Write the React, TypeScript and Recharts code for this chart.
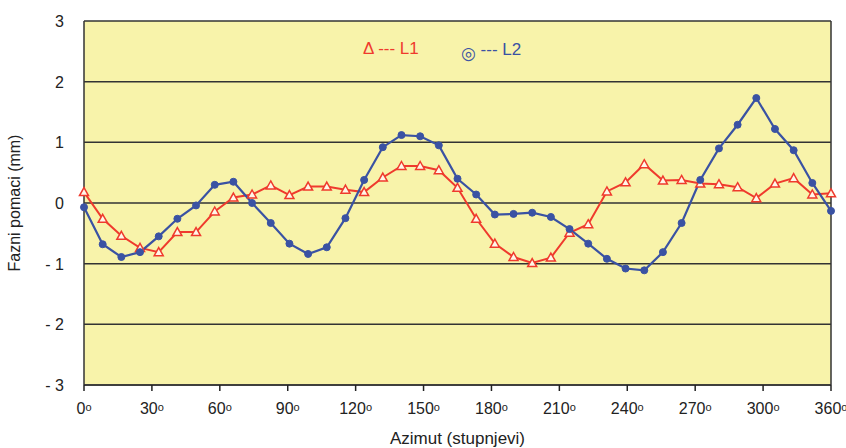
import React from "react";
import {
  LineChart,
  Line,
  XAxis,
  YAxis,
  CartesianGrid,
  ReferenceLine,
} from "recharts";

// sample azimuths as drawn on the (0..330 scaled) axis
const AZIMUTH = [
  0, 8.25, 16.5, 24.75, 33, 41.25, 49.5, 57.75, 66, 74.25, 82.5, 90.75, 99,
  107.25, 115.5, 123.75, 132, 140.25, 148.5, 156.75, 165, 173.25, 181.5,
  189.75, 198, 206.25, 214.5, 222.75, 231, 239.25, 247.5, 255.75, 264, 272.25,
  280.5, 288.75, 297, 305.25, 313.5, 321.75, 330,
];

const L1 = [
  0.18, -0.26, -0.54, -0.74, -0.81, -0.48, -0.48, -0.14, 0.09, 0.14, 0.29,
  0.13, 0.27, 0.27, 0.22, 0.18, 0.42, 0.61, 0.61, 0.54, 0.25, -0.26, -0.67,
  -0.89, -0.99, -0.9, -0.49, -0.35, 0.19, 0.34, 0.64, 0.37, 0.38, 0.32, 0.31,
  0.26, 0.08, 0.32, 0.41, 0.14, 0.16,
];

const L2 = [
  -0.07, -0.68, -0.89, -0.81, -0.55, -0.26, -0.04, 0.3, 0.35, 0.0, -0.33,
  -0.67, -0.84, -0.73, -0.25, 0.38, 0.92, 1.12, 1.1, 0.95, 0.4, 0.14, -0.19,
  -0.18, -0.16, -0.23, -0.43, -0.67, -0.92, -1.08, -1.11, -0.81, -0.33, 0.38,
  0.9, 1.29, 1.73, 1.22, 0.87, 0.33, -0.13,
];

const X_TICKS = [0, 30, 60, 90, 120, 150, 180, 210, 240, 270, 300, 330];
const X_LABELS = ["0", "30", "60", "90", "120", "150", "180", "210", "240", "270", "300", "360"];
const Y_TICKS = [-3, -2, -1, 0, 1, 2, 3];

const RED = "#ef3a2d";
const BLUE = "#3a52a3";
const FONT = "'Liberation Sans', Arial, sans-serif";

const data = AZIMUTH.map((az, i) => ({ az, l1: L1[i], l2: L2[i] }));

const XTick = ({ x, y, payload }: any) => {
  const idx = X_TICKS.indexOf(payload.value);
  return (
    <text x={x} y={y + 21} textAnchor="middle" fontSize={16} fill="#222" fontFamily={FONT}>
      {X_LABELS[idx]}
      <tspan fontSize={11} dy={-3}>o</tspan>
    </text>
  );
};

const YTick = ({ x, y, payload }: any) => (
  <text x={x - 12} y={y + 6} textAnchor="end" fontSize={16} fill="#222" fontFamily={FONT}>
    {payload.value < 0 ? `- ${-payload.value}` : payload.value}
  </text>
);

const Triangle = ({ cx, cy }: any) => (
  <path
    d={`M${cx},${cy - 4.5} L${cx + 4.5},${cy + 3.5} L${cx - 4.5},${cy + 3.5} Z`}
    fill="#fff6e8"
    stroke={RED}
    strokeWidth={1.5}
  />
);

export default function App() {
  return (
    <div style={{ position: "absolute", left: 0, top: 0, width: 846, height: 448, background: "#fff" }}>
      <LineChart
        width={846}
        height={448}
        data={data}
        margin={{ top: 21, right: 15, bottom: 23, left: 4 }}
      >
        <CartesianGrid
          vertical={false}
          stroke="#333"
          strokeWidth={1.5}
          fill="#f8f3aa"
          fillOpacity={1}
        />
        <XAxis
          dataKey="az"
          type="number"
          domain={[0, 330]}
          ticks={X_TICKS}
          tick={<XTick />}
          tickLine={{ stroke: "#222", strokeWidth: 1.5 }}
          tickSize={6}
          axisLine={{ stroke: "#333", strokeWidth: 1.5 }}
          height={40}
          interval={0}
          label={{
            value: "Azimut (stupnjevi)",
            position: "insideBottom",
            offset: -19,
            style: { fontSize: 17, fill: "#222", fontFamily: FONT },
          }}
        />
        <YAxis
          domain={[-3, 3]}
          ticks={Y_TICKS}
          tick={<YTick />}
          tickLine={false}
          axisLine={{ stroke: "#333", strokeWidth: 1.5 }}
          width={80}
          interval={0}
          label={{
            value: "Fazni pomaci (mm)",
            angle: -90,
            position: "insideLeft",
            offset: 10,
            style: { textAnchor: "middle", fontSize: 16, fill: "#222", fontFamily: FONT },
          }}
        />
        <ReferenceLine x={330} stroke="#333" strokeWidth={1.5} />
        <Line
          dataKey="l1"
          stroke={RED}
          strokeWidth={2}
          dot={<Triangle />}
          isAnimationActive={false}
        />
        <Line
          dataKey="l2"
          stroke={BLUE}
          strokeWidth={2.2}
          dot={{ r: 3.5, fill: BLUE, stroke: BLUE, strokeWidth: 1 }}
          isAnimationActive={false}
        />
      </LineChart>
      <div style={{ position: "absolute", left: 363, top: 39, color: RED, fontFamily: FONT, fontSize: 17 }}>
        Δ --- L1
      </div>
      <div style={{ position: "absolute", left: 461, top: 39, color: BLUE, fontFamily: FONT, fontSize: 17 }}>
        <span style={{ fontSize: 17, position: "relative", top: 4, color: BLUE, fontFamily: "'DejaVu Sans'" }}>◎</span> --- L2
      </div>
    </div>
  );
}
